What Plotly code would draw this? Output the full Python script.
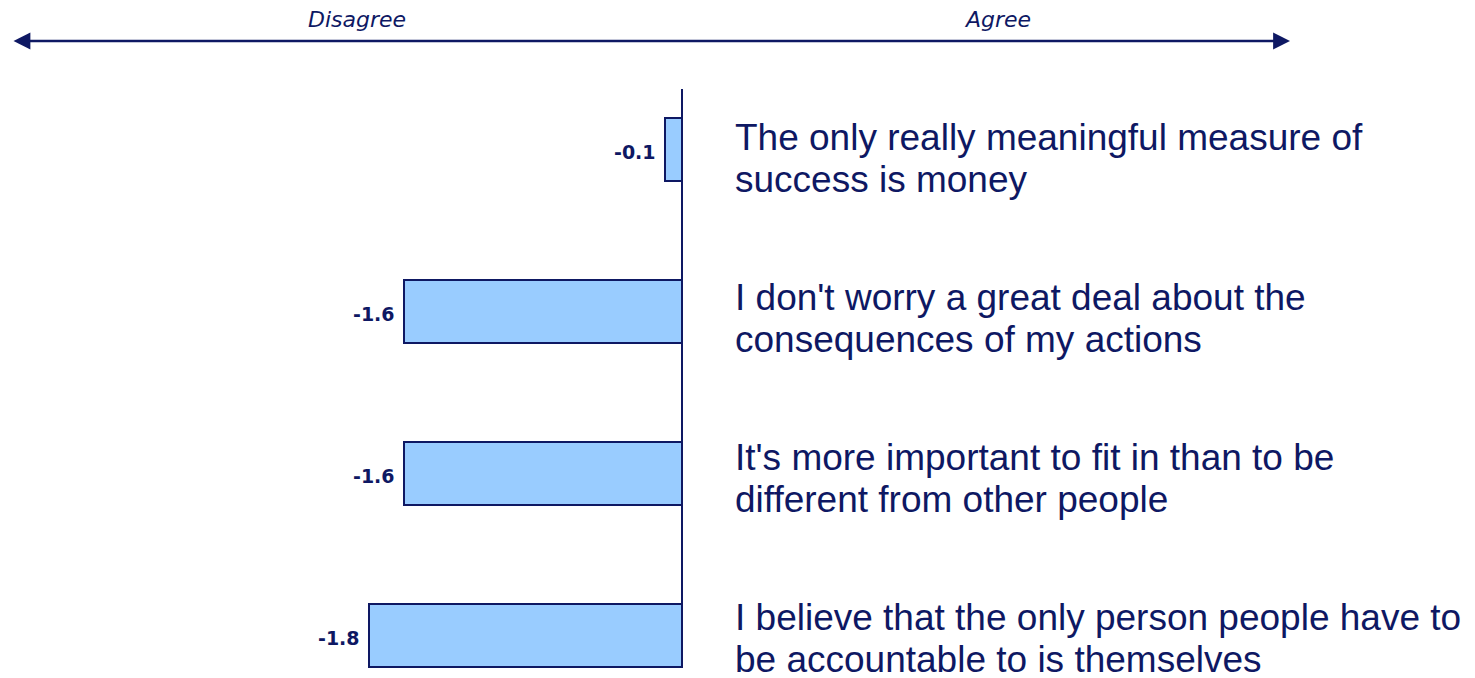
import plotly.graph_objects as go

# Survey statements (each entry holds its two display lines) and mean agreement scores
statements = [
    ["The only really meaningful measure of", "success is money"],
    ["I don't worry a great deal about the", "consequences of my actions"],
    ["It's more important to fit in than to be", "different from other people"],
    ["I believe that the only person people have to", "be accountable to is themselves"],
]
scores = [-0.1, -1.6, -1.6, -1.8]
scale_labels = ["Disagree", "Agree"]

NAVY = "#0E1863"
FILL = "#99CCFF"
W, H = 1475, 678

positions = list(range(len(scores)))

fig = go.Figure()
fig.add_trace(go.Bar(
    x=scores,
    y=positions,
    orientation="h",
    width=0.39,
    marker=dict(color=FILL, line=dict(color=NAVY, width=2)),
    hoverinfo="skip",
))

annotations = []
# score labels to the left of each bar
for pos, val in zip(positions, scores):
    annotations.append(dict(
        x=val, y=pos, xref="x", yref="y",
        text=f"{val:.1f}", showarrow=False,
        xanchor="right", yanchor="middle", xshift=-7, yshift=-2,
        font=dict(family="DejaVu Sans", size=19, color=NAVY, weight="bold"),
    ))
# statement text to the right of the axis (text rows sit on a slightly
# tighter pitch than the bars)
for pos, lines in zip(positions, statements):
    for i, line in enumerate(lines):
        annotations.append(dict(
            x=0, y=pos, xref="x", yref="y",
            text=line, showarrow=False,
            xanchor="left", yanchor="middle", xshift=51,
            yshift=12.5 + 2 * pos - 42.5 * i,
            font=dict(family="Liberation Sans, Arial", size=37, color=NAVY),
        ))

# double-headed scale arrow across the top
arrow_y = 1 - 41 / H
annotations.append(dict(
    x=1290 / W, y=arrow_y, xref="paper", yref="paper",
    ax=-(1290 - 12), ay=0, axref="pixel", ayref="pixel",
    text="", showarrow=True, arrowside="end+start",
    arrowhead=2, arrowsize=1.3, arrowwidth=2.6, arrowcolor=NAVY,
))
for lbl, xc in zip(scale_labels, [357 / W, 997 / W]):
    annotations.append(dict(
        x=xc, y=1 - 20 / H, xref="paper", yref="paper",
        text=f"<i>{lbl}</i>", showarrow=False,
        xanchor="center", yanchor="middle",
        font=dict(family="DejaVu Sans", size=22, color=NAVY),
    ))

# vertical zero axis
px_per_unit_y = 162
y_top = -149.5 / px_per_unit_y
y_bot = y_top + H / px_per_unit_y
fig.add_shape(type="line", xref="x", yref="y",
              x0=0, x1=0,
              y0=y_top + 89 / px_per_unit_y, y1=y_top + 668 / px_per_unit_y,
              line=dict(color=NAVY, width=2))

px_per_unit_x = 174
fig.update_layout(
    width=W, height=H,
    margin=dict(l=0, r=0, t=0, b=0),
    paper_bgcolor="white", plot_bgcolor="white",
    showlegend=False,
    bargap=0,
    annotations=annotations,
    xaxis=dict(range=[-682 / px_per_unit_x, (W - 682) / px_per_unit_x],
               visible=False, fixedrange=True),
    yaxis=dict(range=[y_bot, y_top], visible=False, fixedrange=True),
)

fig.write_html("out.html")
